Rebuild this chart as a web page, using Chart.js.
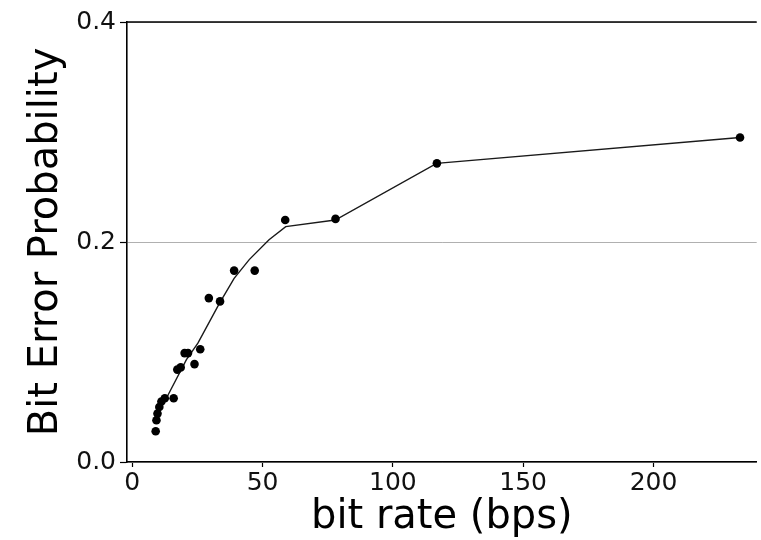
<!DOCTYPE html>
<html>
<head>
<meta charset="utf-8">
<script src="https://cdn.jsdelivr.net/npm/chart.js@4/dist/chart.umd.min.js"></script>
<style>
  html, body { margin: 0; padding: 0; background: #fff; overflow: hidden; }
  #wrap { width: 761px; height: 540px; position: relative; }
</style>
</head>
<body>
<div id="wrap"><canvas id="c" width="761" height="540"></canvas></div>
<script>
// Measured points (bit rate in bps, bit error probability)
const bitRates   = [9.0, 9.3, 9.7, 10.4, 11.2, 12.5, 15.9, 17.3, 18.6, 20.1, 21.4, 23.9, 26.1, 29.4, 33.7, 39.1, 47.0, 58.7, 78.0, 116.9, 233.2];
const errorProbs = [0.028, 0.038, 0.044, 0.050, 0.055, 0.058, 0.058, 0.084, 0.086, 0.099, 0.099, 0.089, 0.1025, 0.149, 0.146, 0.174, 0.174, 0.220, 0.221, 0.2715, 0.295];
// Fitted curve
const fitRates = [13.1, 20.8, 25.2, 33.4, 39.1, 44.9, 52.5, 58.9, 77.9, 116.8, 233.2];
const fitProbs = [0.058, 0.093, 0.108, 0.144, 0.167, 0.184, 0.202, 0.214, 0.220, 0.2715, 0.295];
// Axis ticks
const xTicks = [0, 50, 100, 150, 200];
const yTicks = [0.0, 0.2, 0.4];
const xLabel = 'bit rate (bps)';
const yLabel = 'Bit Error Probability';

const FONT = "'DejaVu Sans', 'Liberation Sans', sans-serif";

const topSpine = {
  id: 'topSpine',
  afterDraw(chart) {
    const {ctx, chartArea} = chart;
    ctx.save();
    ctx.strokeStyle = '#000';
    ctx.lineWidth = 1.6;
    ctx.beginPath();
    ctx.moveTo(chartArea.left - 0.8, chartArea.top);
    ctx.lineTo(chartArea.right, chartArea.top);
    ctx.stroke();
    ctx.restore();
  }
};

new Chart(document.getElementById('c'), {
  type: 'scatter',
  data: {
    datasets: [
      {
        label: 'measured',
        data: bitRates.map((x, i) => ({x, y: errorProbs[i]})),
        backgroundColor: '#000',
        borderColor: '#000',
        pointRadius: 4.3,
        pointBorderWidth: 0,
        showLine: false
      },
      {
        label: 'fit',
        data: fitRates.map((x, i) => ({x, y: fitProbs[i]})),
        showLine: true,
        borderColor: '#1a1a1a',
        borderWidth: 1.4,
        pointRadius: 0,
        tension: 0,
        fill: false
      }
    ]
  },
  options: {
    responsive: false,
    animation: false,
    devicePixelRatio: 1,
    layout: { padding: { top: 22, left: 0, right: 0, bottom: 0 } },
    plugins: { legend: { display: false }, tooltip: { enabled: false } },
    scales: {
      x: {
        type: 'linear',
        min: -2.0,
        max: 239.6,
        afterBuildTicks(scale) { scale.ticks = xTicks.map(v => ({value: v})); },
        afterFit(scale) { scale.height = 78; },
        border: { display: true, color: '#000', width: 1.6 },
        grid: { display: true, drawOnChartArea: false, drawTicks: true, tickLength: 5, tickColor: '#000', tickWidth: 1.2 },
        ticks: { color: '#111', font: { family: FONT, size: 25 }, padding: 1, maxRotation: 0, autoSkip: false },
        title: { display: true, text: xLabel, color: '#000', font: { family: FONT, size: 40, lineHeight: 1 }, padding: { top: 0, bottom: 2 } }
      },
      y: {
        type: 'linear',
        min: 0,
        max: 0.4,
        afterBuildTicks(scale) { scale.ticks = yTicks.map(v => ({value: v})); },
        afterFit(scale) { scale.width = 127; },
        border: { display: true, color: '#000', width: 1.6 },
        grid: { display: true, drawOnChartArea: true, color: '#b0b0b0', lineWidth: 1, drawTicks: true, tickLength: 7, tickColor: '#000', tickWidth: 1.2 },
        ticks: { color: '#111', font: { family: FONT, size: 25 }, padding: 4, callback: v => v.toFixed(1) },
        title: { display: true, text: yLabel, color: '#000', font: { family: FONT, size: 40, lineHeight: 1 }, padding: { top: 27, bottom: 0 } }
      }
    }
  },
  plugins: [topSpine]
});
</script>
</body>
</html>
